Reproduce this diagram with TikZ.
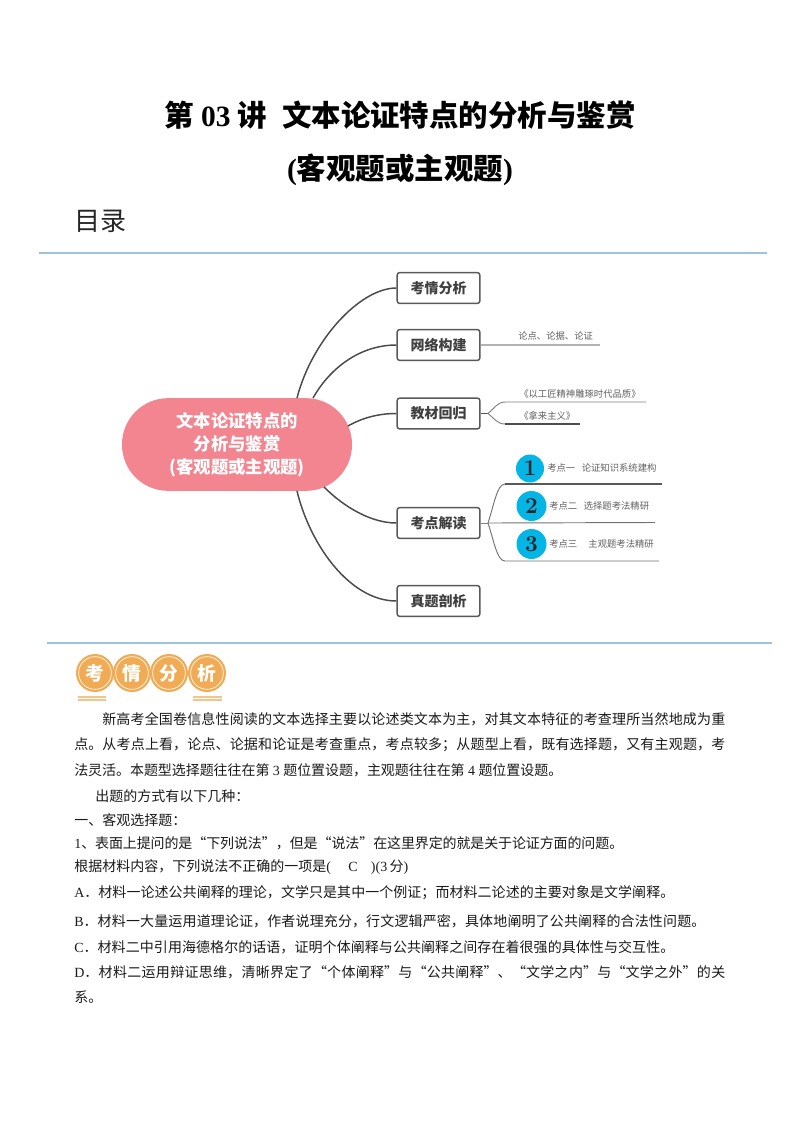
\documentclass[tikz,border=0pt]{standalone}
\usepackage{fontspec}
\setmainfont{Noto Sans CJK SC}
\newfontfamily\latf{Liberation Serif}
\newfontfamily\numf{Latin Modern Roman}
\XeTeXlinebreaklocale "zh"
\XeTeXlinebreakskip=0pt plus 2pt minus 0.6pt
\usetikzlibrary{calc}
\definecolor{rulec}{HTML}{9DC3E0}
\definecolor{pillc}{HTML}{F2858F}
\definecolor{boxc}{HTML}{595959}
\definecolor{curvec}{HTML}{4A4A4A}
\definecolor{cyanc}{HTML}{05B5E6}
\definecolor{orangec}{HTML}{F2AB55}
\definecolor{txtc}{HTML}{1A1A1A}
\tikzset{
  topicbox/.style={draw=boxc,line width=1.1pt,rounded corners=1.8pt,minimum width=62pt,minimum height=23pt,inner sep=0pt,font=\fontsize{10.5}{12}\selectfont\bfseries,text=black!75,anchor=center},
  curve/.style={draw=curvec,line width=1.1pt},
  subline/.style={draw=#1,line width=0.7pt},
  subtxt/.style={font=\fontsize{7}{8}\selectfont,text=black!62,inner sep=0pt,anchor=west},
  numdisc/.style={circle,fill=cyanc,inner sep=0pt,text=black!85,font=\numf\fontsize{17}{17}\selectfont\bfseries},
  bodyline/.style={inner sep=0pt,anchor=west,text=txtc,font=\fontsize{10.5}{12}\selectfont,text width=#1,align=justify},
  badge/.style={circle,fill=orangec,minimum size=28.5pt,inner sep=0pt,text=white,font=\fontsize{14}{14}\selectfont\bfseries},
  badgering/.style={circle,draw=white,line width=0.5pt,minimum size=24.5pt,inner sep=0pt},
  rulel/.style={draw=rulec,line width=0.9pt}
}
\newcommand{\bline}[4]{\node[bodyline=#3*0.75pt] (#1) at #2 {\parfillskip=0pt #4\par};}
\begin{document}
\begin{tikzpicture}[x=0.75pt,y=-0.75pt]
\useasboundingbox (0,0) rectangle (800,1132);
\fill[white] (0,0) rectangle (800,1132);
% headings
\node[inner sep=0pt,font=\fontsize{22.1}{25}\selectfont\bfseries] (t1) at (400,115) {第{\latf\bfseries\ 03\ }讲\hspace{0.5em}文本论证特点的分析与鉴赏};
\node[inner sep=0pt,font=\fontsize{22.1}{25}\selectfont\bfseries] (t2) at (400,170) {{\latf\bfseries(}客观题或主观题{\latf\bfseries)}};
\node[inner sep=0pt,anchor=west,font=\fontsize{19.5}{22}\selectfont,text=black!85] (mulu) at (74,221) {目录};
\coordinate (r1a) at (39,253); \coordinate (r1b) at (767,253);
\draw[rulel] (r1a) -- (r1b);
\coordinate (r2a) at (47,643); \coordinate (r2b) at (772,643);
\draw[rulel] (r2a) -- (r2b);
% central
\node[fill=pillc,rounded corners=34.5pt,minimum width=172.5pt,minimum height=69.5pt,inner sep=0pt,text=white,font=\fontsize{13}{17.25}\selectfont\bfseries,align=center] (center) at (237,444.5) {文本论证特点的\\分析与鉴赏\\(客观题或主观题)};
\node[topicbox] (b1) at (438.5,288) {考情分析};
\node[topicbox] (b2) at (438.5,345) {网络构建};
\node[topicbox] (b3) at (438.5,413.5) {教材回归};
\node[topicbox] (b4) at (438.5,523) {考点解读};
\node[topicbox] (b5) at (438.5,601) {真题剖析};
\coordinate (c1) at (297,398); \coordinate (c2) at (313,398); \coordinate (c3) at (348,426);
\coordinate (c4) at (324,487); \coordinate (c5) at (297,491);
\draw[curve] (c1) .. controls (312,340) and (360,288) .. (b1.west);
\draw[curve] (c2) .. controls (330,368) and (360,345) .. (b2.west);
\draw[curve] (c3) .. controls (362,418) and (378,413.5) .. (b3.west);
\draw[curve] (c4) .. controls (345,508) and (372,523) .. (b4.west);
\draw[curve] (c5) .. controls (310,545) and (350,601) .. (b5.west);
% net
\coordinate (n1) at (600,345);
\draw[subline=black!30,line width=1.2pt] (b2.east) -- (n1);
\node[subtxt] (n1t) at (518,336) {论点、论据、论证};
% textbook
\coordinate (j3) at (488,413.5);
\coordinate (m1) at (505,402); \coordinate (m1e) at (646,402);
\coordinate (m2) at (505,424); \coordinate (m2e) at (580,424);
\draw[subline=black!65] (b3.east) -- (j3);
\draw[subline=black!50] (j3) .. controls (494,409) and (497,402) .. (m1) -- (m1e);
\draw[subline=black!50] (j3) .. controls (494,418) and (497,424) .. (m2);
\draw[subline=black!70,line width=1pt] (m2) -- (m2e);
\node[subtxt] (m1t) at (519,393.5) {《以工匠精神雕琢时代品质》};
\node[subtxt] (m2t) at (519,416) {《拿来主义》};
% exam points
\coordinate (j4) at (488,523);
\coordinate (p1) at (505,484); \coordinate (p1e) at (662,484);
\coordinate (p2e) at (655,522.5);
\coordinate (p3) at (505,561); \coordinate (p3e) at (659,561);
\draw[subline=black!50] (b4.east) -- (j4);
\draw[subline=black!55] (j4) .. controls (494,505) and (497,484) .. (p1);
\draw[subline=black!65,line width=1.2pt] (p1) -- (p1e);
\draw[subline=black!55] (j4) -- (p2e);
\draw[subline=black!55] (j4) .. controls (494,541) and (497,561) .. (p3) -- (p3e);
\node[numdisc,minimum size=21pt] (d1) at (530,468.5) {1};
\node[numdisc,minimum size=22.5pt] (d2) at (531.5,506) {2};
\node[numdisc,minimum size=22.5pt] (d3) at (531.5,544) {3};
\node[subtxt] (d1t) at (547,468) {考点一\hspace{0.7em}论证知识系统建构};
\node[subtxt] (d2t) at (549,506) {考点二\hspace{0.7em}选择题考法精研};
\node[subtxt] (d3t) at (549,544) {考点三\hspace{1.2em}主观题考法精研};
% badge
\foreach \n/\x/\t in {a/95/考,b/132/情,c/169/分,d/207/析}{
  \node[badge] (bd\n) at (\x,673) {\t};
  \node[badgering] (br\n) at (\x,673) {};
}
\coordinate (u1a) at (78,697); \coordinate (u1b) at (106,697);
\coordinate (u2a) at (193,697); \coordinate (u2b) at (222,697);
\coordinate (u3a) at (78,700); \coordinate (u3b) at (106,700);
\coordinate (u4a) at (193,700); \coordinate (u4b) at (222,700);
\draw[orangec!70,line width=0.8pt] (u1a)--(u1b) (u2a)--(u2b) (u3a)--(u3b) (u4a)--(u4b);
% body
\bline{l1}{(102,719)}{623}{新高考全国卷信息性阅读的文本选择主要以论述类文本为主，对其文本特征的考查理所当然地成为重}
\bline{l2}{(74,745)}{651}{点。从考点上看，论点、论据和论证是考查重点，考点较多；从题型上看，既有选择题，又有主观题，考}
\bline{l3}{(74,770)}{488}{法灵活。本题型选择题往往在第{\latf\ 3\ }题位置设题，主观题往往在第{\latf\ 4\ }题位置设题。}
\node[bodyline=400pt] (l4) at (95,796) {出题的方式有以下几种：};
\node[bodyline=400pt] (l5) at (74,820) {一、客观选择题：};
\bline{l6}{(74,843)}{549}{{\latf 1}、表面上提问的是“下列说法”，但是“说法”在这里界定的就是关于论证方面的问题。}
\node[bodyline=560pt] (l7) at (74,867) {根据材料内容，下列说法不正确的一项是{\latf(\hspace{13pt}C\hspace{10pt})(3\,}分{\latf)}};
\bline{l8}{(74,893)}{600}{{\latf A}．材料一论述公共阐释的理论，文学只是其中一个例证；而材料二论述的主要对象是文学阐释。}
\bline{l9}{(74,921)}{631}{{\latf B}．材料一大量运用道理论证，作者说理充分，行文逻辑严密，具体地阐明了公共阐释的合法性问题。}
\bline{l10}{(74,947)}{600}{{\latf C}．材料二中引用海德格尔的话语，证明个体阐释与公共阐释之间存在着很强的具体性与交互性。}
\bline{l11}{(74,972)}{651}{{\latf D}．材料二运用辩证思维，清晰界定了“个体阐释”与“公共阐释”、“文学之内”与“文学之外”的关}
\node[bodyline=200pt] (l12) at (74,997) {系。};
\end{tikzpicture}
\end{document}
